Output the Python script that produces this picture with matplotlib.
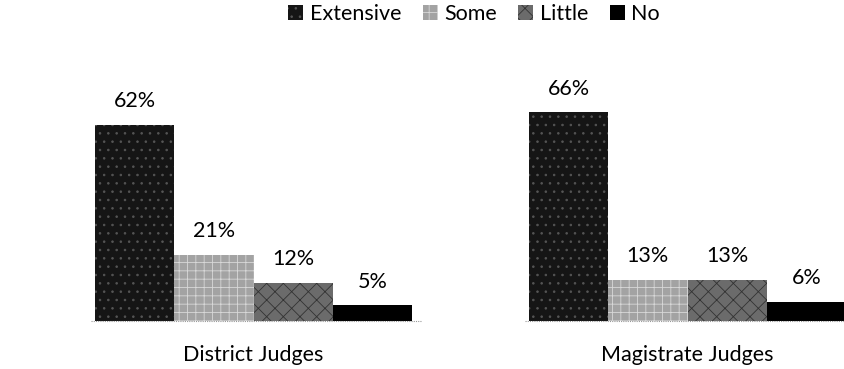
import numpy as np
import matplotlib
matplotlib.use("Agg")
import matplotlib.pyplot as plt
from matplotlib.patches import Patch

groups = ["District Judges", "Magistrate Judges"]
series = ["Extensive", "Some", "Little", "No"]
values = {
    "Extensive": [62, 66],
    "Some": [21, 13],
    "Little": [12, 13],
    "No": [5, 6],
}

colors = {"Extensive": "#151515", "Some": "#a3a3a3", "Little": "#6b6b6b", "No": "#000000"}
hatches = {"Extensive": "..", "Some": "++", "Little": "xx", "No": None}
hatch_colors = {"Extensive": "#555555", "Some": "#d8d8d8", "Little": "#333333", "No": "#000000"}

plt.rcParams["font.family"] = ["Lato", "DejaVu Sans"]
plt.rcParams["hatch.linewidth"] = 0.6
FS = 15.5

fig = plt.figure(figsize=(8.44, 3.69), dpi=100)
ax = fig.add_axes([0, 48 / 369, 1, 321 / 369])

x = np.arange(len(groups))
w = 79.25 / 434
for i, s in enumerate(series):
    pos = x + (i - 1.5) * w
    bars = ax.bar(pos, values[s], width=w, color=colors[s], hatch=hatches[s],
                  edgecolor=hatch_colors[s], linewidth=0)
    for b, v in zip(bars, values[s]):
        ax.annotate(f"{v}%", (b.get_x() + b.get_width() / 2, v), xytext=(0, 17),
                    textcoords="offset points", ha="center", va="center", fontsize=FS)

ax.set_xlim(-253.5 / 434, (844 - 253.5) / 434)
ax.set_ylim(0, 321 / 3.16)
ax.axis("off")
for c, g in zip(x, groups):
    ax.plot([c - 0.375, c + 0.385], [0, 0], color="#999999", lw=0.8, ls=(0, (1, 1)), clip_on=False)
    ax.annotate(g, (c, 0), xytext=(0, -24.5), textcoords="offset points",
                ha="center", va="center", fontsize=FS, annotation_clip=False)

handles = [Patch(facecolor=colors[s], hatch=hatches[s], edgecolor=hatch_colors[s], linewidth=0)
           for s in series]
fig.legend(handles, series, loc="center", bbox_to_anchor=(474 / 844, 1 - 14 / 369),
           ncol=4, frameon=False, fontsize=FS, handlelength=0.7, handleheight=0.7,
           handletextpad=0.3, columnspacing=1.0, borderpad=0)

fig.savefig("out.png", dpi=100)
